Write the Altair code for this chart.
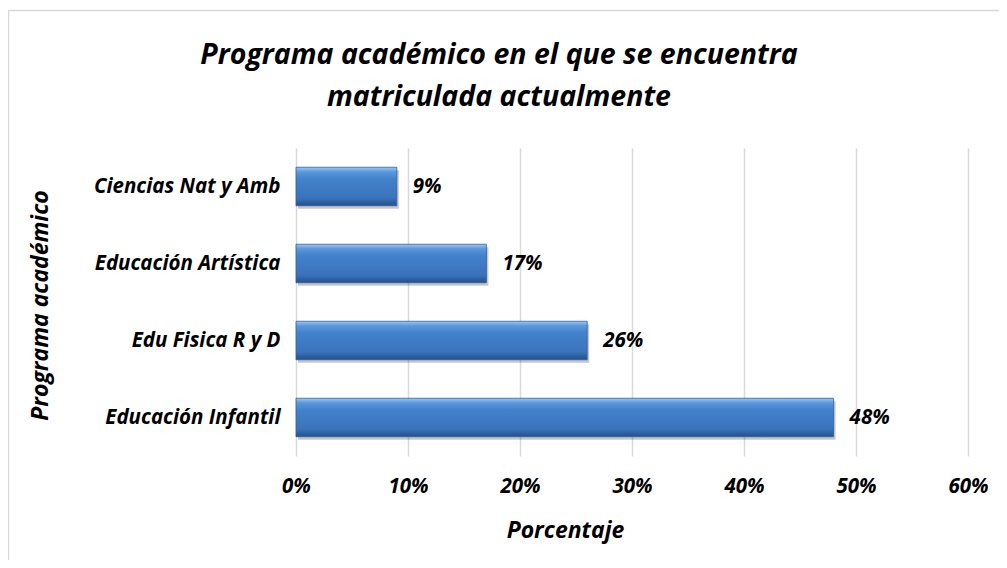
import altair as alt
import pandas as pd

categories = ["Ciencias Nat y Amb", "Educación Artística", "Edu Fisica R y D", "Educación Infantil"]
values = [0.09, 0.17, 0.26, 0.48]
labels = ["9%", "17%", "26%", "48%"]
x_ticks = [0, 0.1, 0.2, 0.3, 0.4, 0.5, 0.6]
title_lines = ["Programa académico en el que se encuentra", "matriculada actualmente"]

df = pd.DataFrame({"programa": categories, "valor": values, "etiqueta": labels})

FONT = "Open Sans"
W, H = 672, 308

y_enc = alt.Y("programa:N", sort=categories,
              scale=alt.Scale(paddingInner=0.5, paddingOuter=0.25),
              axis=alt.Axis(title="Programa académico", labelFont=FONT, labelFontSize=20.5,
                            labelFontStyle="italic", labelFontWeight="bold", labelColor="#000",
                            labelPadding=16, labelLimit=300, ticks=False, domain=False,
                            titleFont=FONT, titleFontSize=23, titleFontStyle="italic",
                            titleFontWeight="bold", titleColor="#000",
                            titleX=-256, titleY=H / 2 + 3, titleAngle=-90, titleBaseline="middle",
                            titleAlign="center"))

x_enc = alt.X("valor:Q",
              scale=alt.Scale(domain=[0, 0.6], nice=False),
              axis=alt.Axis(title="Porcentaje", values=x_ticks, format=".0%",
                            labelFont=FONT, labelFontSize=20.5, labelFontStyle="italic",
                            labelFontWeight="bold", labelColor="#000", labelPadding=20,
                            labelFlush=False,
                            ticks=False, domain=False, grid=True, gridColor="#d9d9d9",
                            gridWidth=1.5,
                            titleFont=FONT, titleFontSize=23, titleFontStyle="italic",
                            titleFontWeight="bold", titleColor="#000",
                            titleX=269, titleY=74, titleBaseline="middle", titleAlign="center"))

base = alt.Chart(df)

frame = base.mark_rect(fill="transparent", stroke="#d9d9d9", strokeWidth=1.5).encode(
    x=alt.value(-287.5), x2=alt.value(800), y=alt.value(-137.5), y2=alt.value(600)
).transform_filter("datum.programa == 'Ciencias Nat y Amb'")

shadow = base.mark_bar(color="rgba(0,0,0,0.22)", xOffset=2, yOffset=3).encode(
    x=x_enc, y=y_enc
)

bars = base.mark_bar(
    color=alt.Gradient(
        gradient="linear", x1=0, y1=0, x2=0, y2=1,
        stops=[
            alt.GradientStop(offset=0, color="#9cc8f4"),
            alt.GradientStop(offset=0.12, color="#5b97db"),
            alt.GradientStop(offset=0.3, color="#4282cc"),
            alt.GradientStop(offset=0.8, color="#3a73bb"),
            alt.GradientStop(offset=1, color="#23508c"),
        ],
    ),
    stroke="#2f5f9e", strokeWidth=0.8,
).encode(x=x_enc, y=y_enc)

text = base.mark_text(align="left", dx=16, font=FONT, fontSize=20.5, fontStyle="italic",
                      fontWeight="bold", color="#000").encode(
    x="valor:Q", y=alt.Y("programa:N", sort=categories), text="etiqueta:N"
)

def title_line(i, ypix):
    return alt.Chart(pd.DataFrame({"linea": [title_lines[i]]})).mark_text(
        font=FONT, fontSize=28.5, fontStyle="italic", fontWeight="bold",
        color="#000", align="center", baseline="middle",
    ).encode(x=alt.value(203), y=alt.value(ypix), text="linea:N")

chart = alt.layer(frame, shadow, bars, text, title_line(0, -93), title_line(1, -51)).properties(
    width=W, height=H,
    autosize=alt.AutoSizeParams(type="none"),
    padding={"left": 288, "top": 140, "right": 31, "bottom": 104},
).configure(background="white", view=alt.ViewConfig(stroke=None))

chart.save("out.html", embed_options={"renderer": "svg", "actions": False})
